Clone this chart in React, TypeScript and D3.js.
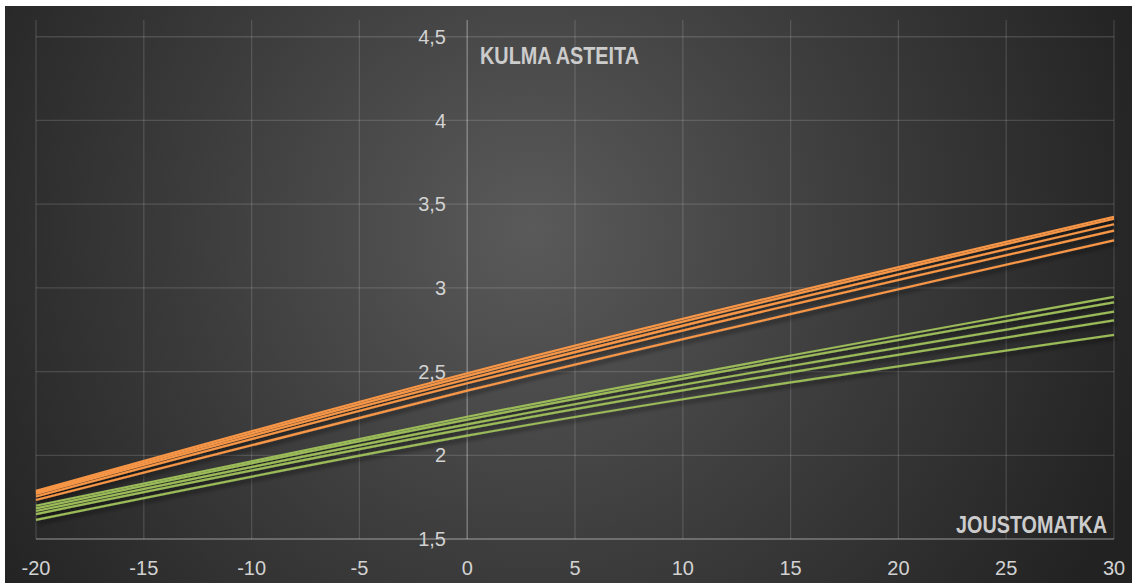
import React from "react";
import * as d3 from "d3";

const travel: number[] = [-20, 0, 30];
const orangeSeries: number[][] = [
  [1.787, 2.49, 3.425],
  [1.778, 2.474, 3.413],
  [1.769, 2.454, 3.38],
  [1.754, 2.43, 3.342],
  [1.733, 2.386, 3.284],
];
const greenSeries: number[][] = [
  [1.699, 2.23, 2.946],
  [1.683, 2.213, 2.914],
  [1.667, 2.185, 2.858],
  [1.649, 2.159, 2.806],
  [1.614, 2.117, 2.719],
];
const xTicks: number[] = [-20, -15, -10, -5, 0, 5, 10, 15, 20, 25, 30];
const yTicks: number[] = [1.5, 2, 2.5, 3, 3.5, 4, 4.5];
const yTitle = "KULMA ASTEITA";
const xTitle = "JOUSTOMATKA";

const W = 1132;
const H = 583;

export default function App() {
  const x = d3.scaleLinear().domain([-20, 30]).range([36, 1114]);
  const y = d3.scaleLinear().domain([1.5, 4.6]).range([539, 20]);
  const line = d3
    .line<[number, number]>()
    .x((d) => x(d[0]))
    .y((d) => y(d[1]))
    .curve(d3.curveMonotoneX);
  const fmt = (v: number) => String(v).replace(".", ",");
  const font = "'Liberation Sans', Arial, sans-serif";

  return (
    <svg
      width={W}
      height={H}
      style={{ position: "absolute", left: 0, top: 0, background: "#fff" }}
    >
      <defs>
        <radialGradient id="bg" gradientUnits="userSpaceOnUse" cx={530} cy={230} r={650}>
          <stop offset="0" stopColor="#5a5a5a" />
          <stop offset="0.5" stopColor="#3d3d3d" />
          <stop offset="1" stopColor="#222" />
        </radialGradient>
        <filter id="sh" x="-5%" y="-20%" width="110%" height="140%">
          <feDropShadow dx="2" dy="3" stdDeviation="2" floodColor="#000" floodOpacity="0.6" />
        </filter>
      </defs>
      <rect x={5} y={6} width={W - 5} height={H - 6} fill="url(#bg)" />
      {/* grid */}
      {yTicks.slice(1).map((t) => (
        <line key={"gy" + t} x1={x(-20)} x2={x(30)} y1={y(t)} y2={y(t)} stroke="rgba(255,255,255,0.14)" strokeWidth={1.3} />
      ))}
      {xTicks.filter((t) => t !== 0).map((t) => (
        <line key={"gx" + t} x1={x(t)} x2={x(t)} y1={y(4.6)} y2={y(1.5)} stroke="rgba(255,255,255,0.14)" strokeWidth={1.3} />
      ))}
      {/* axes */}
      <line x1={x(0)} x2={x(0)} y1={y(4.6)} y2={y(1.5)} stroke="rgba(255,255,255,0.3)" strokeWidth={1.5} />
      <line x1={x(-20)} x2={x(30)} y1={y(1.5)} y2={y(1.5)} stroke="rgba(255,255,255,0.35)" strokeWidth={1.5} />
      {/* series */}
      <g filter="url(#sh)" fill="none" strokeWidth={2.2}>
        {greenSeries.map((s, i) => (
          <path key={"g" + i} d={line(travel.map((t, j) => [t, s[j]] as [number, number])) || ""} stroke="#9bbb59" />
        ))}
        {orangeSeries.map((s, i) => (
          <path key={"o" + i} d={line(travel.map((t, j) => [t, s[j]] as [number, number])) || ""} stroke="#f79646" />
        ))}
      </g>
      {/* tick labels */}
      {xTicks.map((t) => (
        <text key={"xl" + t} x={x(t)} y={575} textAnchor="middle" fill="#d2d2d2" fontSize={20} fontFamily={font}>
          {t}
        </text>
      ))}
      {yTicks.map((t) => (
        <text key={"yl" + t} x={446} y={y(t)} dy="0.36em" textAnchor="end" fill="#d2d2d2" fontSize={20} fontFamily={font}>
          {fmt(t)}
        </text>
      ))}
      <text x={480} y={64} fill="#cccccc" fontSize={23} fontWeight="bold" fontFamily={font} textLength={159} lengthAdjust="spacingAndGlyphs">
        {yTitle}
      </text>
      <text x={956} y={533} fill="#cccccc" fontSize={23} fontWeight="bold" fontFamily={font} textLength={151} lengthAdjust="spacingAndGlyphs">
        {xTitle}
      </text>
    </svg>
  );
}
